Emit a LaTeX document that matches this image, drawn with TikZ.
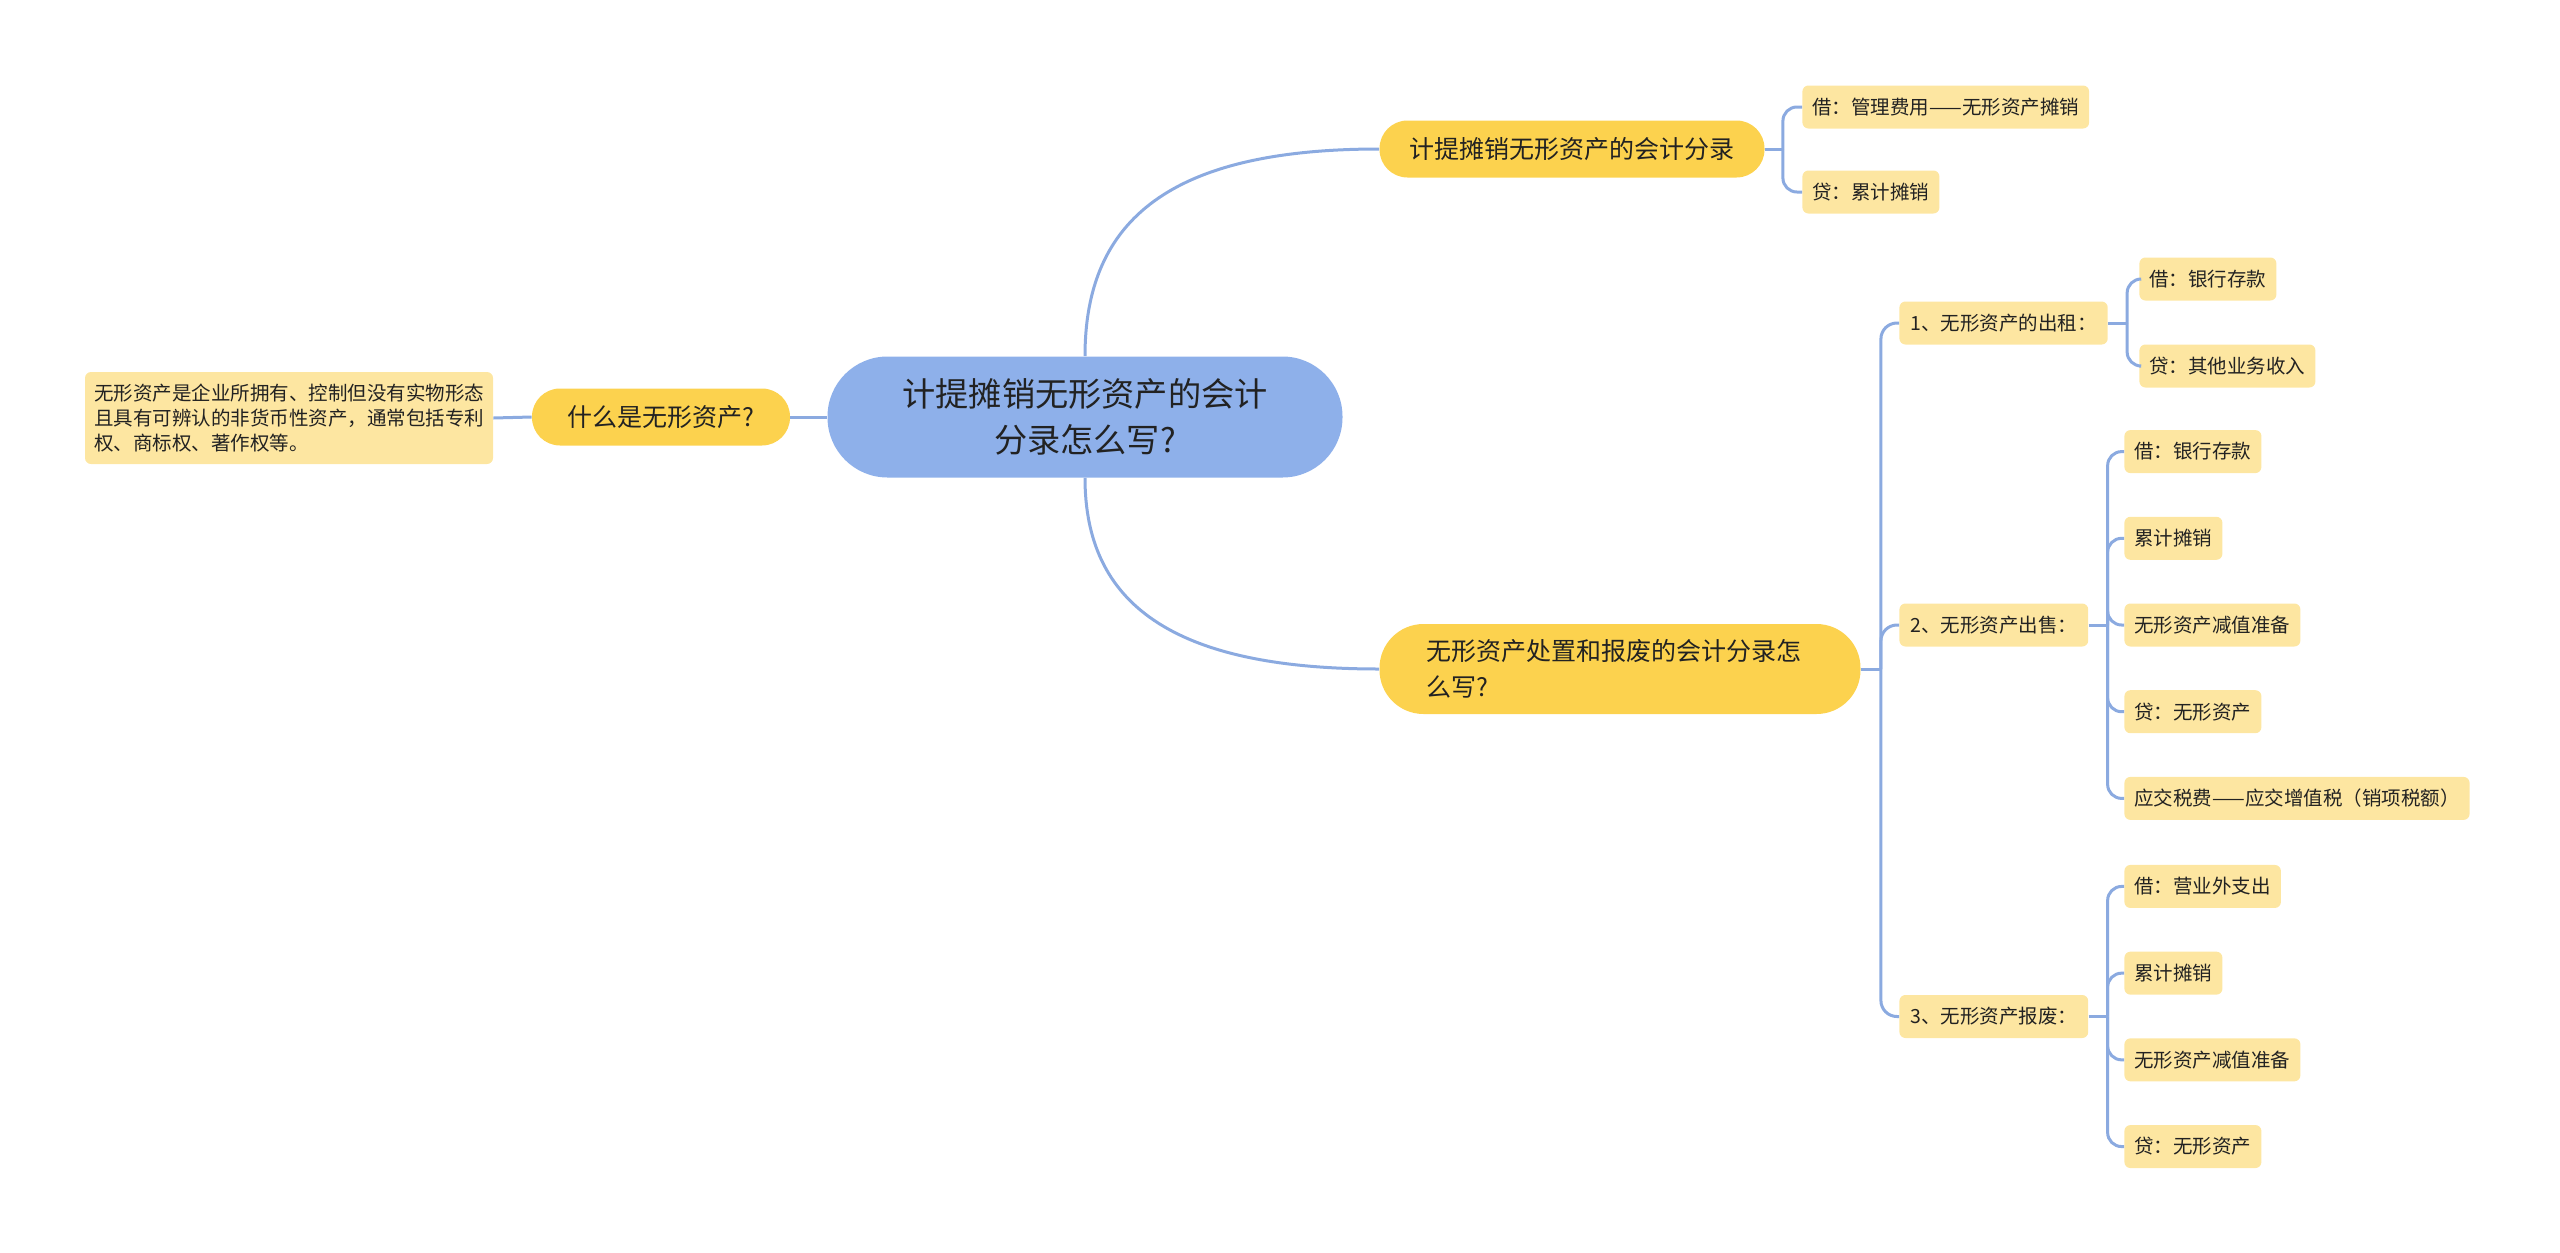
\documentclass[tikz,border=0pt]{standalone}
\usepackage{fontspec}
\setmainfont{Noto Sans CJK SC}
\definecolor{cBlu}{HTML}{8EB0EA}
\definecolor{cGiallo}{HTML}{FCD24E}
\definecolor{cCrema}{HTML}{FDE6A1}
\definecolor{cFilo}{HTML}{8BAAE0}
\definecolor{cTesto}{HTML}{222222}

\begin{document}
\begin{tikzpicture}[x=0.5pt, y=-0.5pt,
  filo/.style={draw=cFilo, line width=1.5pt},
  radice/.style={fill=cBlu, rounded corners=30pt, minimum width=257.5pt, minimum height=60.5pt,
    align=center, text=cTesto, font=\fontsize{16.6}{23}\selectfont},
  ramo/.style={fill=cGiallo, rounded corners=14pt, minimum height=28.5pt, inner xsep=14pt,
    text=cTesto, font=\fontsize{12.5}{18}\selectfont},
  voce/.style={fill=cCrema, rounded corners=3pt, minimum height=21.5pt, inner xsep=5.5pt,
    text=cTesto, font=\fontsize{9.75}{12.5}\selectfont},
  foglia/.style={voce, inner xsep=5pt}]
  \useasboundingbox (0,0) rectangle (2560,1253);

  % Nodo centrale
  \node[radice] (centro) at (1085,417) {计提摊销无形资产的会计\\分录怎么写?};

  % Rami principali
  \node[ramo, minimum width=192.5pt] (ammort) at (1572,149) {计提摊销无形资产的会计分录};
  \node[ramo, minimum width=240.5pt, minimum height=45pt, rounded corners=22pt,
    text width=194pt, align=left] (cessione) at (1620,669) {无形资产处置和报废的会计分录怎\\么写?};
  \node[ramo, minimum width=129pt] (cosa) at (661,417) {什么是无形资产?};
  \node[voce, text width=195pt, align=left, minimum height=46pt, inner xsep=4.5pt] (defin) at (289,418)
    {无形资产是企业所拥有、控制但没有实物形态\\且具有可辨认的非货币性资产，通常包括专利\\权、商标权、著作权等。};

  % Scritture dell'ammortamento
  \node[foglia, anchor=west] (deb) at (1802,107) {借：管理费用——无形资产摊销};
  \node[foglia, anchor=west] (cred) at (1802,192) {贷：累计摊销};

  % Casi della cessione
  \node[voce, anchor=west] (s1) at (1899,323) {1、无形资产的出租：};
  \node[voce, anchor=west] (s2) at (1899,625) {2、无形资产出售：};
  \node[voce, anchor=west] (s3) at (1899,1016.5) {3、无形资产报废：};

  \node[foglia, anchor=west] (r1) at (2139,279) {借：银行存款};
  \node[foglia, anchor=west] (r2) at (2139,366) {贷：其他业务收入};
  \foreach \t [count=\i] in {借：银行存款, 累计摊销, 无形资产减值准备, 贷：无形资产, 应交税费——应交增值税（销项税额）}
    \node[foglia, anchor=west] (v\i) at (2124,{625+86.7*(\i-3)}) {\t};
  \foreach \t [count=\i] in {借：营业外支出, 累计摊销, 无形资产减值准备, 贷：无形资产}
    \node[foglia, anchor=west] (w\i) at (2124,{1016.5+86.7*(\i-2.5)}) {\t};

  % Collegamenti
  \draw[filo] (centro.west) -- (cosa.east);
  \draw[filo] (cosa.west) -- (defin.east);
  \draw[filo] (centro.north) .. controls +(0,-137) and +(-208,0) .. (ammort.west);
  \draw[filo] (centro.south) .. controls +(0,125) and +(-208,0) .. (cessione.west);

  \draw[filo] (ammort.east) -- ++(18,0) coordinate (fA);
  \foreach \n in {deb, cred}
    \draw[filo, rounded corners=7pt] (fA) |- (\n.west);

  \draw[filo] (cessione.east) -- ++(20,0) coordinate (fB);
  \foreach \n in {s1, s2, s3}
    \draw[filo, rounded corners=8pt] (fB) |- (\n.west);

  \draw[filo] (s1.east) -- ++(19,0) coordinate (f1);
  \foreach \n in {r1, r2}
    \draw[filo, rounded corners=7pt] (f1) |- (\n.west);
  \draw[filo] (s2.east) -- ++(19,0) coordinate (f2);
  \foreach \i in {1,...,5}
    \draw[filo, rounded corners=7pt] (f2) |- (v\i.west);
  \draw[filo] (s3.east) -- ++(19,0) coordinate (f3);
  \foreach \i in {1,...,4}
    \draw[filo, rounded corners=7pt] (f3) |- (w\i.west);
\end{tikzpicture}
\end{document}
